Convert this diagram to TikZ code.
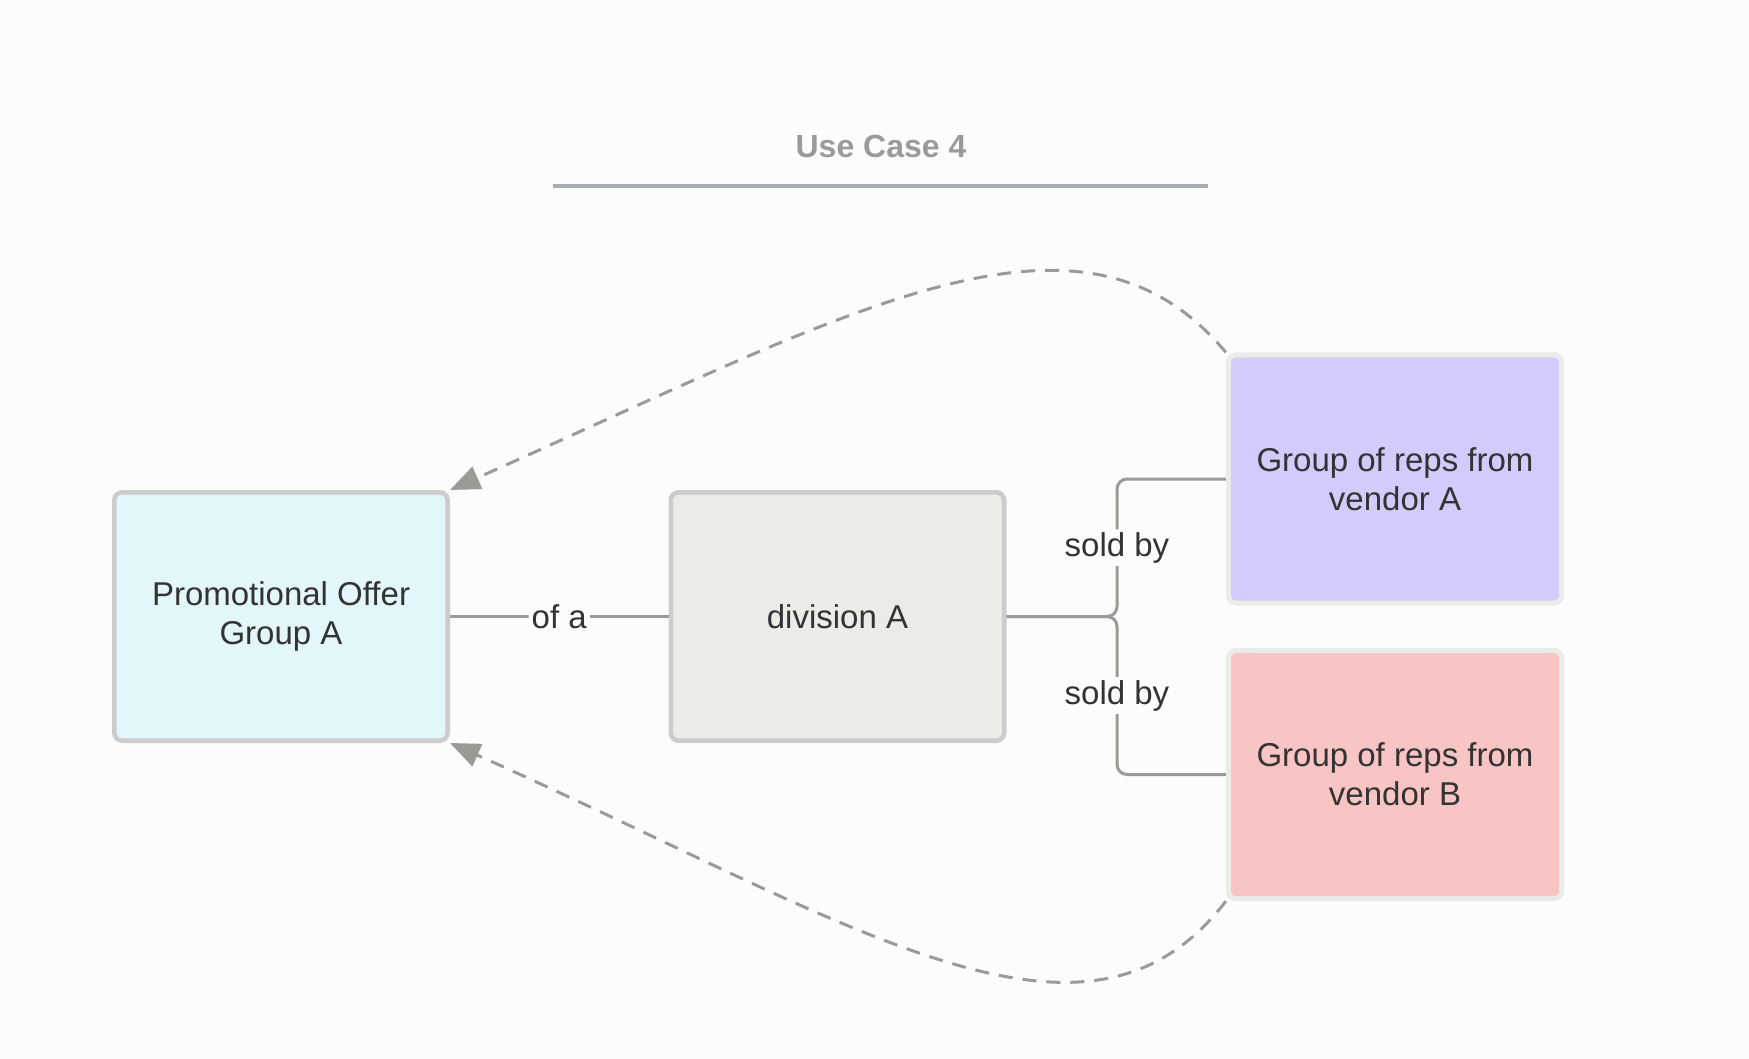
\documentclass[tikz,border=0pt]{standalone}
\usepackage{fontspec}
\setmainfont{Liberation Sans}
\usetikzlibrary{arrows.meta}

\definecolor{bg}{HTML}{FCFCFC}
\definecolor{ink}{HTML}{333333}
\definecolor{titlegray}{HTML}{9A9A98}
\definecolor{rulegray}{HTML}{A8AEB4}
\definecolor{wire}{HTML}{9A9A96}
\definecolor{edgegray}{HTML}{CCCCCC}
\definecolor{edgelight}{HTML}{EBEBE8}
\definecolor{offerfill}{HTML}{E3F7FA}
\definecolor{divfill}{HTML}{EDEBE8}
\definecolor{vendorAfill}{HTML}{D3CBFB}
\definecolor{vendorBfill}{HTML}{F9C4C4}

\begin{document}
\begin{tikzpicture}[x=0.5pt, y=-0.5pt,
    box/.style={draw=edgegray, line width=2.3pt, rounded corners=4pt,
      minimum width=166.7pt, minimum height=124.2pt, align=center,
      text=ink, font=\fontsize{16.5}{19.5}\selectfont},
    vendorbox/.style={box, draw=edgelight, line width=2.5pt},
    wirelabel/.style={fill=bg, inner sep=1.5pt, text=ink,
      font=\fontsize{16.5}{19.5}\selectfont},
    link/.style={draw=wire, line width=1.5pt, rounded corners=5pt},
    backlink/.style={draw=wire, line width=1.5pt, dash pattern=on 7pt off 5pt,
      -{Triangle[length=15pt, width=12pt]}},
  ]
  \useasboundingbox[fill=bg] (0,0) rectangle (1749,1059);

  % heading
  \node[font=\bfseries\fontsize{16}{19}\selectfont, text=titlegray] (title) at (881,146) {Use Case 4};
  \coordinate (ruleL) at (553,186);
  \coordinate (ruleR) at (1208,186);
  \draw[rulegray, line width=1.8pt] (ruleL) -- (ruleR);

  % boxes
  \node[box, fill=offerfill] (offer) at (281,616.5) {Promotional Offer\\Group A};
  \node[box, fill=divfill] (div) at (837.5,616.5) {division A};
  \node[vendorbox, fill=vendorAfill] (vendorA) at (1395,479) {Group of reps from\\vendor A};
  \node[vendorbox, fill=vendorBfill] (vendorB) at (1395,774.5) {Group of reps from\\vendor B};

  % links
  \draw[link] (offer.east) -- node[wirelabel]{of a} (div.west);
  \coordinate (fork) at (1117,616.5);
  \draw[link] (div.east) -- (fork) |- node[wirelabel, pos=0.25]{sold by} (vendorA.west);
  \draw[link] (div.east) -- (fork) |- node[wirelabel, pos=0.25]{sold by} (vendorB.west);

  % dashed back links
  \draw[backlink] (vendorA.north west) .. controls (1080,178) and (852,311) .. (offer.north east);
  \draw[backlink] (vendorB.south west) .. controls (1085,1085) and (852,922) .. (offer.south east);
\end{tikzpicture}
\end{document}
